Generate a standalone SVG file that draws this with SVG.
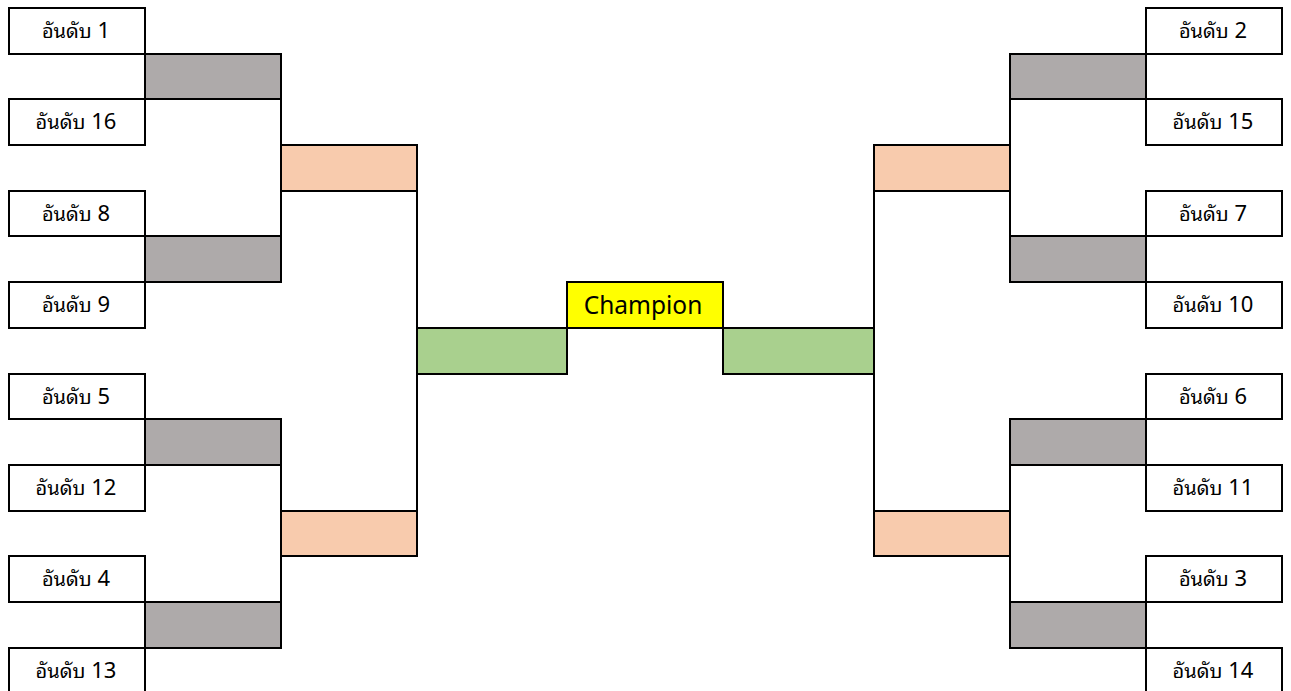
<svg xmlns="http://www.w3.org/2000/svg" width="1291" height="691" viewBox="0 0 1291 691">
<style>
.box{stroke:#000;stroke-width:2}
.team{fill:#fff}
.r1{fill:#AEAAAA}
.r2{fill:#F8CBAD}
.r3{fill:#A9D08E}
.champ{fill:#FFFF00}
.lbl{font-family:"Noto Sans","Noto Sans Thai Looped","Noto Sans Thai","Liberation Sans",sans-serif;font-size:22px;fill:#000;text-anchor:middle}
.th{font-family:"Noto Sans Thai Looped","Noto Sans Thai","Noto Sans",sans-serif;font-size:20px}
.ct{font-family:"Noto Sans","Liberation Sans",sans-serif;font-size:24.5px;fill:#000;text-anchor:middle}
.wire{stroke:#000;stroke-width:2;fill:none}
</style>
<rect width="1291" height="691" fill="#fff"/>
<g id="connectors">
<line class="wire" x1="281" y1="54" x2="281" y2="282"/>
<line class="wire" x1="281" y1="419" x2="281" y2="648"/>
<line class="wire" x1="417" y1="145" x2="417" y2="556"/>
<line class="wire" x1="874" y1="145" x2="874" y2="556"/>
<line class="wire" x1="1010" y1="54" x2="1010" y2="282"/>
<line class="wire" x1="1010" y1="419" x2="1010" y2="648"/>
</g>
<!-- left teams -->
<g id="team-l1"><rect class="box team" x="9" y="8" width="136" height="46"/><text class="lbl" x="76" y="38"><tspan class="th">อันดับ</tspan> 1</text></g>
<g id="team-l16"><rect class="box team" x="9" y="99" width="136" height="46"/><text class="lbl" x="76" y="129"><tspan class="th">อันดับ</tspan> 16</text></g>
<g id="team-l8"><rect class="box team" x="9" y="191" width="136" height="45"/><text class="lbl" x="76" y="221"><tspan class="th">อันดับ</tspan> 8</text></g>
<g id="team-l9"><rect class="box team" x="9" y="282" width="136" height="46"/><text class="lbl" x="76" y="312"><tspan class="th">อันดับ</tspan> 9</text></g>
<g id="team-l5"><rect class="box team" x="9" y="374" width="136" height="45"/><text class="lbl" x="76" y="404"><tspan class="th">อันดับ</tspan> 5</text></g>
<g id="team-l12"><rect class="box team" x="9" y="465" width="136" height="46"/><text class="lbl" x="76" y="495"><tspan class="th">อันดับ</tspan> 12</text></g>
<g id="team-l4"><rect class="box team" x="9" y="556" width="136" height="46"/><text class="lbl" x="76" y="586"><tspan class="th">อันดับ</tspan> 4</text></g>
<g id="team-l13"><rect class="box team" x="9" y="648" width="136" height="45"/><text class="lbl" x="76" y="678"><tspan class="th">อันดับ</tspan> 13</text></g>
<!-- left round 1 -->
<g id="r1-l1"><rect class="box r1" x="145" y="54" width="136" height="45"/></g>
<g id="r1-l2"><rect class="box r1" x="145" y="236" width="136" height="46"/></g>
<g id="r1-l3"><rect class="box r1" x="145" y="419" width="136" height="46"/></g>
<g id="r1-l4"><rect class="box r1" x="145" y="602" width="136" height="46"/></g>
<!-- left round 2 -->
<g id="r2-l1"><rect class="box r2" x="281" y="145" width="136" height="46"/></g>
<g id="r2-l2"><rect class="box r2" x="281" y="511" width="136" height="45"/></g>
<!-- semis -->
<g id="r3-l"><rect class="box r3" x="417" y="328" width="150" height="46"/></g>
<g id="r3-r"><rect class="box r3" x="723" y="328" width="151" height="46"/></g>
<!-- champion -->
<g id="champion"><rect class="box champ" x="567" y="282" width="156" height="46"/><text class="ct" x="643" y="314">Champion</text></g>
<!-- right round 2 -->
<g id="r2-r1"><rect class="box r2" x="874" y="145" width="136" height="46"/></g>
<g id="r2-r2"><rect class="box r2" x="874" y="511" width="136" height="45"/></g>
<!-- right round 1 -->
<g id="r1-r1"><rect class="box r1" x="1010" y="54" width="136" height="45"/></g>
<g id="r1-r2"><rect class="box r1" x="1010" y="236" width="136" height="46"/></g>
<g id="r1-r3"><rect class="box r1" x="1010" y="419" width="136" height="46"/></g>
<g id="r1-r4"><rect class="box r1" x="1010" y="602" width="136" height="46"/></g>
<!-- right teams -->
<g id="team-r2"><rect class="box team" x="1146" y="8" width="136" height="46"/><text class="lbl" x="1213" y="38"><tspan class="th">อันดับ</tspan> 2</text></g>
<g id="team-r15"><rect class="box team" x="1146" y="99" width="136" height="46"/><text class="lbl" x="1213" y="129"><tspan class="th">อันดับ</tspan> 15</text></g>
<g id="team-r7"><rect class="box team" x="1146" y="191" width="136" height="45"/><text class="lbl" x="1213" y="221"><tspan class="th">อันดับ</tspan> 7</text></g>
<g id="team-r10"><rect class="box team" x="1146" y="282" width="136" height="46"/><text class="lbl" x="1213" y="312"><tspan class="th">อันดับ</tspan> 10</text></g>
<g id="team-r6"><rect class="box team" x="1146" y="374" width="136" height="45"/><text class="lbl" x="1213" y="404"><tspan class="th">อันดับ</tspan> 6</text></g>
<g id="team-r11"><rect class="box team" x="1146" y="465" width="136" height="46"/><text class="lbl" x="1213" y="495"><tspan class="th">อันดับ</tspan> 11</text></g>
<g id="team-r3"><rect class="box team" x="1146" y="556" width="136" height="46"/><text class="lbl" x="1213" y="586"><tspan class="th">อันดับ</tspan> 3</text></g>
<g id="team-r14"><rect class="box team" x="1146" y="648" width="136" height="45"/><text class="lbl" x="1213" y="678"><tspan class="th">อันดับ</tspan> 14</text></g>
</svg>
